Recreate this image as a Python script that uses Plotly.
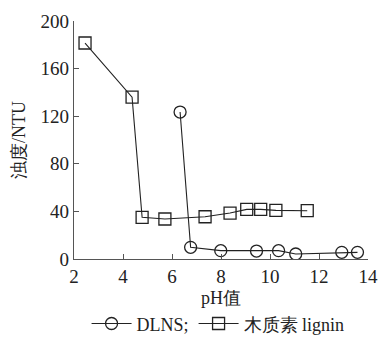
import plotly.graph_objects as go

# Data
dlns_ph = [6.33, 6.76, 7.99, 9.45, 10.35, 11.05, 12.93, 13.57]
dlns_turb = [123.5, 9.8, 7.0, 6.7, 7.0, 4.2, 5.6, 5.6]
lig_ph = [2.45, 4.37, 4.78, 5.71, 7.35, 8.37, 9.05, 9.62, 10.24, 11.52]
lig_turb = [181.5, 136, 35, 33.6, 35.5, 38.6, 41.7, 41.7, 40.9, 40.6]
x_ticks = [2, 4, 6, 8, 10, 12, 14]
y_ticks = [0, 40, 80, 120, 160, 200]

serif = "'Liberation Serif', 'Times New Roman', serif"

fig = go.Figure()
fig.add_trace(go.Scatter(
    x=dlns_ph, y=dlns_turb, mode="lines+markers", name="DLNS;",
    line=dict(color="#222222", width=1.1),
    marker=dict(symbol="circle-open", size=12, color="#222222", line=dict(width=1.3)),
))
fig.add_trace(go.Scatter(
    x=lig_ph, y=lig_turb, mode="lines+markers", name="木质素 lignin",
    line=dict(color="#222222", width=1.1),
    marker=dict(symbol="square-open", size=12, color="#222222", line=dict(width=1.3)),
))

fig.update_layout(
    width=378, height=339,
    margin=dict(l=74, r=10, t=21, b=80, autoexpand=False),
    paper_bgcolor="white", plot_bgcolor="white",
    font=dict(family=serif, size=19, color="#222222"),
    showlegend=True,
    legend=dict(orientation="h", x=0.49, xanchor="center", y=-0.35, yanchor="bottom",
                font=dict(size=18), bgcolor="rgba(0,0,0,0)", itemwidth=40,
                traceorder="normal"),
)
fig.update_xaxes(
    range=[2, 14], tickvals=x_ticks, ticks="inside", ticklen=5, tickcolor="#555555",
    showline=True, linecolor="#555555", linewidth=1.2, showgrid=False, zeroline=False,
    title=dict(text="pH值", font=dict(size=18), standoff=5),
)
fig.update_yaxes(
    range=[0, 200], tickvals=y_ticks, ticks="inside", ticklen=5, tickcolor="#555555",
    showline=True, linecolor="#555555", linewidth=1.2, showgrid=False, zeroline=False,
    title=dict(text="浊度/NTU", font=dict(size=18), standoff=10),
)

fig.write_html("out.html", config={"displayModeBar": False},
               post_script="document.body.style.margin='0';document.body.style.overflow='hidden';")
